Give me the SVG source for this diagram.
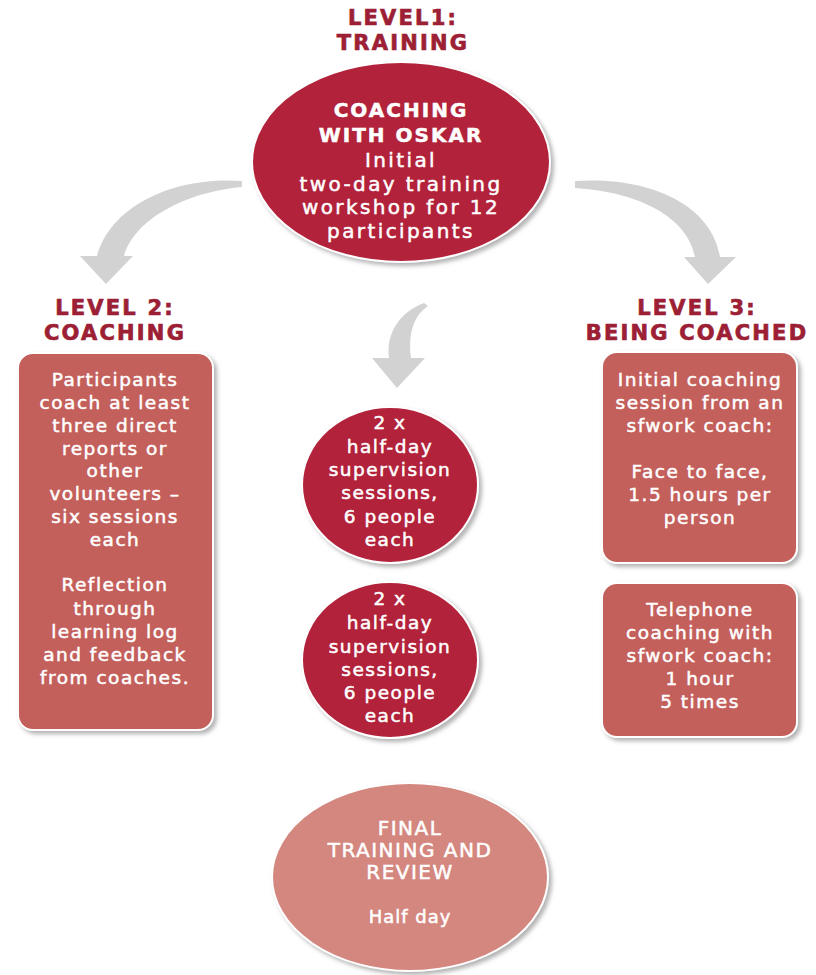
<svg xmlns="http://www.w3.org/2000/svg" width="816" height="975" viewBox="0 0 816 975">
<defs>
<filter id="sh" x="-10%" y="-10%" width="125%" height="125%">
<feDropShadow dx="3" dy="3" stdDeviation="2" flood-color="#808080" flood-opacity="0.6"/>
</filter>
<style>
.head{font-family:"DejaVu Sans","Open Sans",sans-serif;font-weight:bold;font-size:21px;fill:#9c1f35;stroke:#9c1f35;stroke-width:0.7px;text-anchor:middle;letter-spacing:2.2px}
.t{font-family:"DejaVu Sans","Open Sans",sans-serif;font-size:18.5px;fill:#ffffff;stroke:#ffffff;stroke-width:0.5px;text-anchor:middle;letter-spacing:1.5px}
.tb{font-family:"DejaVu Sans","Open Sans",sans-serif;font-weight:bold;font-size:20px;fill:#ffffff;stroke:#ffffff;stroke-width:0.5px;text-anchor:middle;letter-spacing:2px}
.big{font-size:20px;letter-spacing:2.4px}
.red{fill:#b2243b;stroke:#ffffff;stroke-width:2;filter:url(#sh)}
.box{fill:#c4615b;stroke:#ffffff;stroke-width:2;filter:url(#sh)}
.pale{fill:#d4877f;stroke:#ffffff;stroke-width:2;filter:url(#sh)}
.arr{fill:#d2d2d2}
</style>
</defs>
<rect width="816" height="975" fill="#ffffff"/>

<g id="connectors">
<path class="arr" d="M242,181 C180,176 112,202 97,256 L80,256 L106,284 L133,256 L124,256 C134,220 185,192 242,187 Z"/>
<path class="arr" d="M575,181 C650,176 712,205 720,257 L736,257 L708,284 L684,257 L695,257 C688,218 640,192 575,188 Z"/>
<path class="arr" d="M424,303 C398,313 386,335 389,358 L372,358 L397,388 L425,358 L411,358 C408,335 413,316 428,306 Z"/>
</g>

<g id="level1">
<text class="head" x="403" y="25">LEVEL1:</text>
<text class="head" x="403" y="50">TRAINING</text>
<ellipse class="red" cx="401" cy="162" rx="149" ry="100"/>
<text class="tb" x="401" y="117">COACHING</text>
<text class="tb" x="401" y="142">WITH OSKAR</text>
<text class="t big" x="401" y="167">Initial</text>
<text class="t big" x="401" y="191">two-day training</text>
<text class="t big" x="401" y="214">workshop for 12</text>
<text class="t big" x="401" y="238">participants</text>
</g>

<g id="level2">
<text class="head" x="115" y="315">LEVEL 2:</text>
<text class="head" x="115" y="340">COACHING</text>
<rect class="box" x="18" y="353" width="195" height="377" rx="15"/>
<text class="t" x="115" y="386">Participants</text>
<text class="t" x="115" y="409">coach at least</text>
<text class="t" x="115" y="432">three direct</text>
<text class="t" x="115" y="455">reports or</text>
<text class="t" x="115" y="477">other</text>
<text class="t" x="115" y="500">volunteers –</text>
<text class="t" x="115" y="523">six sessions</text>
<text class="t" x="115" y="546">each</text>
<text class="t" x="115" y="591">Reflection</text>
<text class="t" x="115" y="615">through</text>
<text class="t" x="115" y="638">learning log</text>
<text class="t" x="115" y="661">and feedback</text>
<text class="t" x="115" y="684">from coaches.</text>
</g>

<g id="supervision1">
<ellipse class="red" cx="390" cy="485" rx="88" ry="78"/>
<text class="t" x="390" y="429">2 x</text>
<text class="t" x="390" y="453">half-day</text>
<text class="t" x="390" y="476">supervision</text>
<text class="t" x="390" y="499">sessions,</text>
<text class="t" x="390" y="523">6 people</text>
<text class="t" x="390" y="546">each</text>
</g>

<g id="supervision2">
<ellipse class="red" cx="390" cy="660" rx="88" ry="78"/>
<text class="t" x="390" y="605">2 x</text>
<text class="t" x="390" y="629">half-day</text>
<text class="t" x="390" y="653">supervision</text>
<text class="t" x="390" y="676">sessions,</text>
<text class="t" x="390" y="699">6 people</text>
<text class="t" x="390" y="722">each</text>
</g>

<g id="level3">
<text class="head" x="697" y="315">LEVEL 3:</text>
<text class="head" x="697" y="340">BEING COACHED</text>
</g>

<g id="session1">
<rect class="box" x="602" y="352" width="195" height="211" rx="15"/>
<text class="t" x="700" y="386">Initial coaching</text>
<text class="t" x="700" y="409">session from an</text>
<text class="t" x="700" y="432">sfwork coach:</text>
<text class="t" x="700" y="478">Face to face,</text>
<text class="t" x="700" y="501">1.5 hours per</text>
<text class="t" x="700" y="524">person</text>
</g>

<g id="session2">
<rect class="box" x="602" y="583" width="195" height="154" rx="15"/>
<text class="t" x="700" y="616">Telephone</text>
<text class="t" x="700" y="639">coaching with</text>
<text class="t" x="700" y="662">sfwork coach:</text>
<text class="t" x="700" y="685">1 hour</text>
<text class="t" x="700" y="708">5 times</text>
</g>

<g id="final">
<ellipse class="pale" cx="410" cy="877" rx="138" ry="94"/>
<text class="t" x="410" y="835" style="font-size:20px">FINAL</text>
<text class="t" x="410" y="857" style="font-size:20px">TRAINING AND</text>
<text class="t" x="410" y="879" style="font-size:20px">REVIEW</text>
<text class="t" x="410" y="923" style="font-size:18px;letter-spacing:1px">Half day</text>
</g>
</svg>
